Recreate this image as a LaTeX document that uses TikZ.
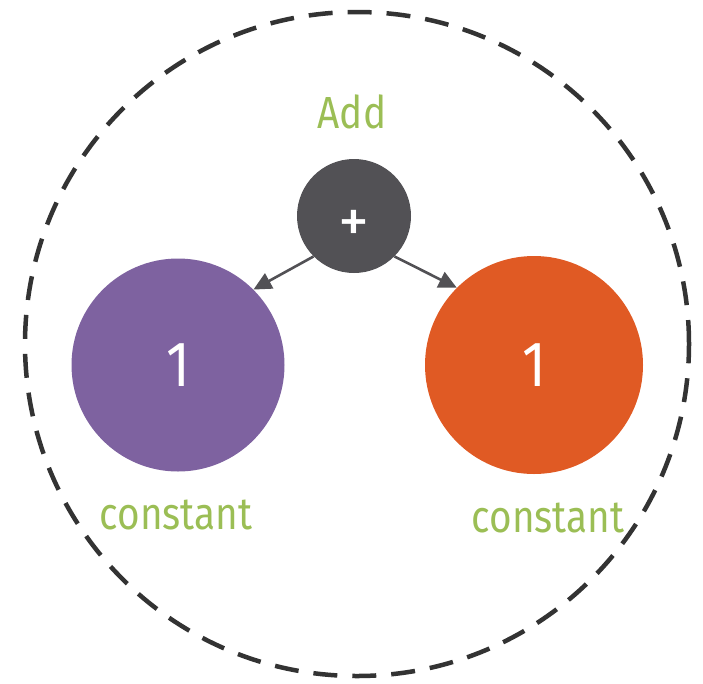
\documentclass[tikz,border=0pt]{standalone}
\usepackage{fontspec}
\setmainfont{Fira Sans}
\newfontfamily\narrowfont[FakeStretch=0.86]{Fira Sans}
\usetikzlibrary{arrows.meta}
\definecolor{opdark}{HTML}{525155}
\definecolor{constpurple}{HTML}{7E62A0}
\definecolor{constorange}{HTML}{E05A24}
\definecolor{labelgreen}{HTML}{9BBE55}
\definecolor{ringgrey}{HTML}{333333}
\tikzset{
  opnode/.style={circle, fill=opdark, inner sep=0pt, minimum size=114pt},
  opsign/.style={text=white, inner sep=0pt, yshift=-10pt, font=\fontsize{62}{62}\selectfont},
  constnode/.style={circle, inner sep=0pt, text=white, font=\narrowfont\fontsize{64}{64}\selectfont},
  lbl/.style={text=labelgreen, font=\narrowfont\fontsize{45}{45}\selectfont, inner sep=0pt},
  edge/.style={draw=opdark, line width=2.6pt, -{Triangle[length=18pt,width=17pt]}},
  ring/.style={draw=ringgrey, line width=4.5pt, dash pattern=on 24pt off 15pt}
}
\begin{document}
\begin{tikzpicture}[x=1pt,y=-1pt]
\useasboundingbox (0,0) rectangle (703,683);
\node[ring, circle, minimum size=664pt, inner sep=0pt] (scope) at (357,344) {};
\node[opnode, label={[opsign]center:+}] (add) at (354,216) {};
\node[constnode, fill=constpurple, minimum size=213pt] (c1) at (178,365) {1};
\node[constnode, fill=constorange, minimum size=218pt] (c2) at (534,365) {1};
\node[lbl] (addlbl) at (352,112) {Add};
\node[lbl] (c1lbl) at (176,515) {constant};
\node[lbl] (c2lbl) at (548,518) {constant};
\draw[edge] (add.225) -- (c1.45);
\draw[edge] (add.315) -- (c2.135);
\end{tikzpicture}
\end{document}
